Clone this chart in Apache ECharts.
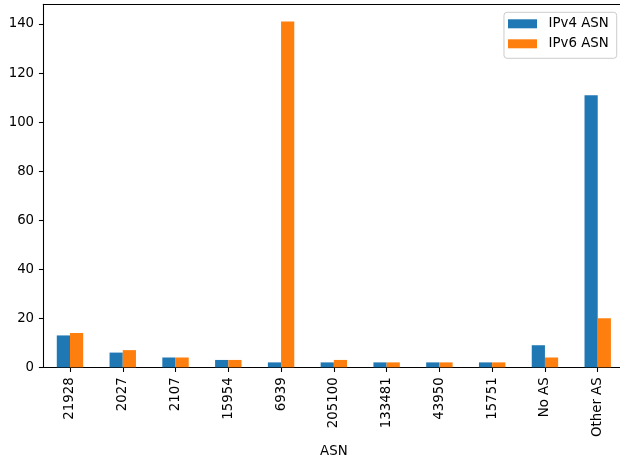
<!DOCTYPE html>
<html>
<head>
<meta charset="utf-8">
<script src="https://cdn.jsdelivr.net/npm/echarts@6/dist/echarts.min.js"></script>
<style>
html,body{margin:0;padding:0;background:#fff;overflow:hidden;}
#chart{width:620px;height:462px;}
</style>
</head>
<body>
<div id="chart"></div>
<script>
var categories = ['21928','2027','2107','15954','6939','205100','133481','43950','15751','No AS','Other AS'];
var ipv4 = [13, 6, 4, 3, 2, 2, 2, 2, 2, 9, 111];
var ipv6 = [14, 7, 4, 3, 141, 3, 2, 2, 2, 4, 20];
var yTicks = [0, 20, 40, 60, 80, 100, 120, 140];
var seriesNames = ['IPv4 ASN', 'IPv6 ASN'];

var FONT = 'DejaVu Sans';
var FS = 13.33;
var chart = echarts.init(document.getElementById('chart'), null, {renderer: 'canvas'});
var axisLineStyle = {color: '#000', width: 1.07};
var option = {
  animation: false,
  backgroundColor: '#ffffff',
  textStyle: {fontFamily: FONT},
  grid: {
    left: 43.6, top: 4.3, width: 580.5, height: 363,
    outerBoundsMode: 'none',
    containLabel: false,
    show: false
  },
  legend: {
    orient: 'vertical',
    right: 3.3, top: 12.3,
    padding: [4, 8, 7, 4],
    itemGap: 5,
    itemWidth: 29, itemHeight: 9,
    icon: 'rect',
    backgroundColor: 'rgba(255,255,255,0.8)',
    borderColor: '#cccccc', borderWidth: 1, borderRadius: 3,
    textStyle: {fontFamily: FONT, fontSize: FS, color: '#000', lineHeight: 15, padding: [0, 0, 0, 6.6]},
    data: seriesNames
  },
  xAxis: [{
    type: 'category',
    data: categories,
    position: 'bottom',
    name: 'ASN',
    nameLocation: 'middle',
    nameGap: 78,
    nameTextStyle: {fontFamily: FONT, fontSize: FS, color: '#000', verticalAlign: 'top'},
    axisLine: {show: true, onZero: false, lineStyle: axisLineStyle},
    axisTick: {show: true, alignWithLabel: true, length: 4.67, lineStyle: axisLineStyle},
    axisLabel: {rotate: 90, margin: 10, fontFamily: FONT, fontSize: FS, color: '#000', interval: 0},
    splitLine: {show: false}
  }, {
    type: 'category',
    data: categories,
    position: 'top',
    axisLine: {show: true, onZero: false, lineStyle: axisLineStyle},
    axisTick: {show: false},
    axisLabel: {show: false},
    splitLine: {show: false}
  }],
  yAxis: {
    type: 'value',
    min: 0, max: 148.05, interval: 20,
    axisLine: {show: true, onZero: false, lineStyle: axisLineStyle},
    axisTick: {show: true, length: 4.67, lineStyle: axisLineStyle},
    axisLabel: {
      margin: 9.5, fontFamily: FONT, fontSize: FS, color: '#000',
      showMaxLabel: false,
      formatter: function (v) { return yTicks.indexOf(v) >= 0 ? String(v) : ''; }
    },
    splitLine: {show: false}
  },
  series: [
    {name: seriesNames[0], type: 'bar', data: ipv4, barWidth: 13.2, barGap: '0%', itemStyle: {color: '#1f77b4'}},
    {name: seriesNames[1], type: 'bar', data: ipv6, barWidth: 13.2, barGap: '0%', itemStyle: {color: '#ff7f0e'}}
  ]
};
chart.setOption(option);
</script>
</body>
</html>
